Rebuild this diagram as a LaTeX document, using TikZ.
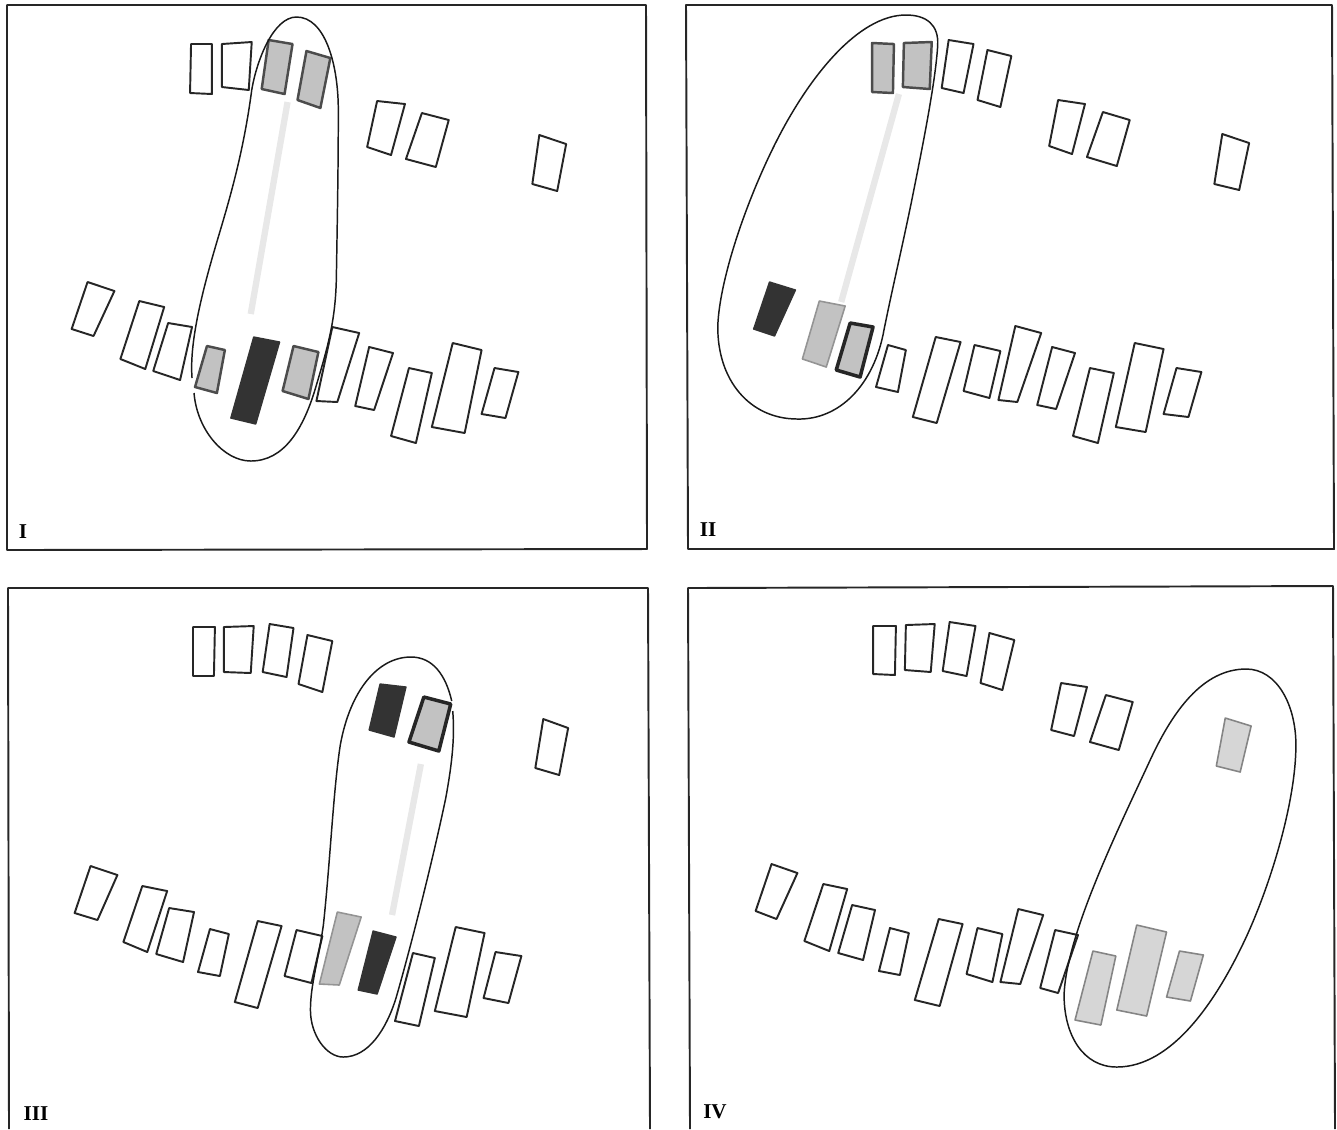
\documentclass[tikz,border=0pt]{standalone}
\usepackage{fontspec}
\setmainfont{Liberation Serif}
\begin{document}
\begin{tikzpicture}[x=0.01cm,y=-0.01cm,line width=0.5pt,line join=round,
    frame/.style={line width=0.55pt,black!85},
    bar/.style={line width=0.55pt,black!85},
    midbar/.style={draw=black!70,line width=0.7pt,fill=black!24},
    boldbar/.style={draw=black!85,line width=1pt,fill=black!24},
    softbar/.style={draw=black!42,line width=0.45pt,fill=black!24},
    palebar/.style={draw=black!48,line width=0.45pt,fill=black!16},
    darkbar/.style={draw=black!80,line width=0.4pt,fill=black!80},
    track/.style={line width=1.8pt,black!9},
    reach/.style={line width=0.42pt,black!90},
    tag/.style={font=\fontsize{6}{7}\selectfont\bfseries,inner sep=0pt}]
  \useasboundingbox (0,0) rectangle (1337,1129);
  % I
  \draw[frame] (7,5) -- (646,5) -- (647,549) -- (7,550) -- cycle;
  \begin{scope}[xscale=0.995]
  \draw[track] (289,102) -- (252,314);
  \draw[bar] (192,44) -- (213,44) -- (213,94) -- (191,93) -- cycle;
  \draw[bar] (223,44) -- (253,42) -- (250,90) -- (223,87) -- cycle;
  \draw[midbar] (270,40) -- (294,44) -- (286,94) -- (263,89) -- cycle;
  \draw[midbar] (308,51) -- (332,58) -- (322,108) -- (299,100) -- cycle;
  \draw[bar] (379,101) -- (407,104) -- (393,155) -- (369,147) -- cycle;
  \draw[bar] (424,113) -- (451,120) -- (438,167) -- (408,159) -- cycle;
  \draw[bar] (542,135) -- (569,144) -- (560,191) -- (535,184) -- cycle;
  \draw[bar] (88,282) -- (115,291) -- (94,336) -- (72,329) -- cycle;
  \draw[bar] (140,301) -- (165,307) -- (146,369) -- (121,359) -- cycle;
  \draw[bar] (169,323) -- (193,327) -- (181,380) -- (154,371) -- cycle;
  \draw[midbar] (208,346) -- (226,350) -- (218,393) -- (196,387) -- cycle;
  \draw[darkbar] (255,337) -- (281,342) -- (257,424) -- (232,418) -- cycle;
  \draw[midbar] (295,346) -- (320,352) -- (310,399) -- (284,391) -- cycle;
  \draw[bar] (334,327) -- (361,333) -- (339,402) -- (318,401) -- cycle;
  \draw[bar] (371,347) -- (395,353) -- (376,410) -- (357,406) -- cycle;
  \draw[bar] (411,368) -- (434,373) -- (418,443) -- (393,436) -- cycle;
  \draw[bar] (455,343) -- (484,350) -- (467,433) -- (434,427) -- cycle;
  \draw[bar] (497,368) -- (521,372) -- (508,418) -- (484,414) -- cycle;
  \draw[reach] (195,393) .. controls (198,430) and (225,461) .. (252,461) .. controls (285,461) and (305,430) .. (318,385) .. controls (330,345) and (337,320) .. (338,280) .. controls (339,220) and (340,170) .. (340,110) .. controls (340,65) and (327,17) .. (298,17) .. controls (275,17) and (258,60) .. (253,90) .. controls (245,150) and (232,195) .. (220,235) .. controls (205,285) and (190,340) .. (193,378);
  \end{scope}
  \node[tag] (tagI) at (23,532) {I};
  % II
  \draw[frame] (686,5) -- (1332,5) -- (1334,549) -- (688,549) -- cycle;
  \begin{scope}[shift={(3.4,0)},xscale=0.995]
  \draw[track] (900,94) -- (842,302);
  \draw[midbar] (873,43) -- (895,44) -- (894,93) -- (873,92) -- cycle;
  \draw[midbar] (905,43) -- (933,42) -- (931,89) -- (904,87) -- cycle;
  \draw[bar] (950,40) -- (975,44) -- (965,93) -- (943,88) -- cycle;
  \draw[bar] (989,50) -- (1013,56) -- (1002,107) -- (979,100) -- cycle;
  \draw[bar] (1060,100) -- (1087,104) -- (1074,154) -- (1051,146) -- cycle;
  \draw[bar] (1105,112) -- (1132,120) -- (1119,166) -- (1089,157) -- cycle;
  \draw[bar] (1225,134) -- (1252,143) -- (1242,190) -- (1217,184) -- cycle;
  \draw[darkbar] (770,282) -- (796,290) -- (775,336) -- (754,329) -- cycle;
  \draw[softbar] (820,301) -- (846,306) -- (827,367) -- (803,359) -- cycle;
  \draw[boldbar] (851,323) -- (874,327) -- (861,377) -- (837,370) -- cycle;
  \draw[bar] (889,345) -- (907,350) -- (899,392) -- (877,387) -- cycle;
  \draw[bar] (937,337) -- (962,342) -- (938,423) -- (914,417) -- cycle;
  \draw[bar] (976,345) -- (1002,351) -- (991,398) -- (965,391) -- cycle;
  \draw[bar] (1017,326) -- (1043,333) -- (1019,402) -- (1000,400) -- cycle;
  \draw[bar] (1054,347) -- (1077,353) -- (1058,409) -- (1039,405) -- cycle;
  \draw[bar] (1092,368) -- (1116,373) -- (1100,443) -- (1075,436) -- cycle;
  \draw[bar] (1137,343) -- (1166,349) -- (1148,432) -- (1118,427) -- cycle;
  \draw[bar] (1179,368) -- (1204,372) -- (1191,417) -- (1166,414) -- cycle;
  \draw[reach] (907,15) .. controls (928,15) and (940,25) .. (939,45) .. controls (937,80) and (925,140) .. (915,190) .. controls (905,240) and (893,290) .. (885,330) .. controls (875,385) and (840,420) .. (798,419) .. controls (750,419) and (717,380) .. (718,325) .. controls (720,280) and (745,205) .. (775,145) .. controls (810,75) and (860,15) .. (907,15) -- cycle;
  \end{scope}
  \node[tag] (tagII) at (708,530) {II};
  % III
  \draw[frame] (9,1129) -- (8,588) -- (648,588) -- (650,1129);
  \begin{scope}[xscale=0.995]
  \draw[track] (423,764) -- (394,915);
  \draw[bar] (194,627) -- (216,627) -- (215,676) -- (194,676) -- cycle;
  \draw[bar] (225,627) -- (255,626) -- (252,673) -- (225,672) -- cycle;
  \draw[bar] (271,624) -- (295,628) -- (288,677) -- (264,672) -- cycle;
  \draw[bar] (309,635) -- (334,641) -- (324,692) -- (300,684) -- cycle;
  \draw[darkbar] (382,684) -- (408,687) -- (396,737) -- (371,730) -- cycle;
  \draw[boldbar] (426,697) -- (453,704) -- (441,751) -- (411,742) -- cycle;
  \draw[bar] (546,719) -- (571,728) -- (562,775) -- (538,768) -- cycle;
  \draw[bar] (91,866) -- (118,875) -- (98,920) -- (75,913) -- cycle;
  \draw[bar] (143,886) -- (168,891) -- (148,952) -- (124,942) -- cycle;
  \draw[bar] (170,908) -- (195,912) -- (184,962) -- (157,954) -- cycle;
  \draw[bar] (211,929) -- (230,934) -- (221,976) -- (199,972) -- cycle;
  \draw[bar] (259,921) -- (283,926) -- (259,1008) -- (236,1002) -- cycle;
  \draw[bar] (298,930) -- (324,936) -- (313,983) -- (286,976) -- cycle;
  \draw[softbar] (339,912) -- (363,917) -- (341,985) -- (321,984) -- cycle;
  \draw[darkbar] (375,931) -- (398,937) -- (379,994) -- (360,990) -- cycle;
  \draw[bar] (415,953) -- (437,958) -- (421,1026) -- (397,1021) -- cycle;
  \draw[bar] (458,927) -- (487,933) -- (469,1017) -- (437,1011) -- cycle;
  \draw[bar] (498,952) -- (524,956) -- (511,1003) -- (486,998) -- cycle;
  \draw[reach] (454,701) .. controls (448,675) and (435,657) .. (413,657) .. controls (380,657) and (352,690) .. (342,745) .. controls (335,790) and (332,860) .. (325,925) .. controls (320,960) and (312,985) .. (312,1010) .. controls (312,1035) and (328,1057) .. (345,1057) .. controls (370,1057) and (388,1030) .. (398,998) .. controls (412,950) and (435,860) .. (448,798) .. controls (455,760) and (457,735) .. (455,711);
  \end{scope}
  \node[tag] (tagIII) at (36,1114) {III};
  % IV
  \draw[frame] (690,1129) -- (688,588) -- (1333,586) -- (1335,1129);
  \begin{scope}[shift={(3.4,0)},xscale=0.995]
  \draw[bar] (874,626) -- (897,626) -- (896,675) -- (874,674) -- cycle;
  \draw[bar] (907,625) -- (936,624) -- (932,672) -- (906,670) -- cycle;
  \draw[bar] (951,622) -- (977,626) -- (968,676) -- (944,671) -- cycle;
  \draw[bar] (991,633) -- (1016,640) -- (1004,690) -- (982,683) -- cycle;
  \draw[bar] (1063,683) -- (1089,687) -- (1076,736) -- (1053,730) -- cycle;
  \draw[bar] (1108,695) -- (1135,702) -- (1121,750) -- (1092,742) -- cycle;
  \draw[palebar] (1228,718) -- (1254,726) -- (1243,772) -- (1219,766) -- cycle;
  \draw[bar] (772,864) -- (798,873) -- (777,919) -- (756,911) -- cycle;
  \draw[bar] (824,884) -- (848,889) -- (830,951) -- (805,941) -- cycle;
  \draw[bar] (853,905) -- (876,910) -- (864,960) -- (839,953) -- cycle;
  \draw[bar] (891,928) -- (910,933) -- (901,975) -- (880,971) -- cycle;
  \draw[bar] (940,919) -- (964,924) -- (941,1006) -- (916,1000) -- cycle;
  \draw[bar] (979,928) -- (1004,934) -- (994,982) -- (968,974) -- cycle;
  \draw[bar] (1020,909) -- (1045,915) -- (1022,984) -- (1002,982) -- cycle;
  \draw[bar] (1057,930) -- (1080,935) -- (1060,993) -- (1042,988) -- cycle;
  \draw[palebar] (1095,951) -- (1118,956) -- (1103,1025) -- (1077,1020) -- cycle;
  \draw[palebar] (1139,925) -- (1169,932) -- (1149,1016) -- (1119,1010) -- cycle;
  \draw[palebar] (1182,951) -- (1206,955) -- (1193,1001) -- (1169,997) -- cycle;
  \draw[reach] (1249,669) .. controls (1280,669) and (1299,705) .. (1299,745) .. controls (1299,800) and (1275,880) .. (1250,935) .. controls (1220,1000) and (1175,1067) .. (1119,1067) .. controls (1085,1067) and (1066,1035) .. (1066,995) .. controls (1068,935) and (1120,830) .. (1153,759) .. controls (1175,712) and (1205,669) .. (1249,669) -- cycle;
  \end{scope}
  \node[tag] (tagIV) at (715,1112) {IV};
\end{tikzpicture}
\end{document}
